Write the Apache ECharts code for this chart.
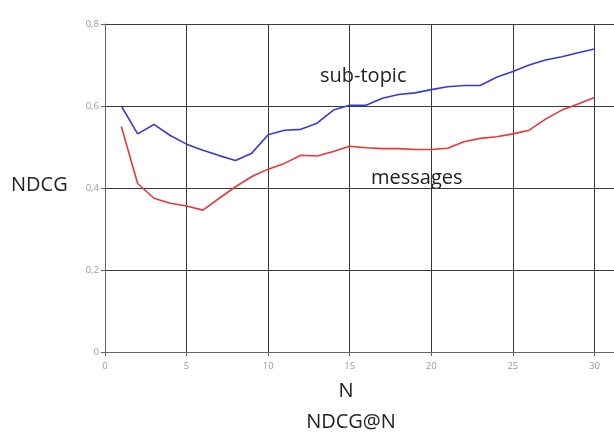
<!DOCTYPE html>
<html>
<head>
<meta charset="utf-8">
<script src="https://cdn.jsdelivr.net/npm/echarts@6/dist/echarts.min.js"></script>
<style>
html,body{margin:0;padding:0;background:#fff;}
#chart{width:614px;height:433px;}
</style>
</head>
<body>
<div id="chart"></div>
<script>
const nValues = [1,2,3,4,5,6,7,8,9,10,11,12,13,14,15,16,17,18,19,20,21,22,23,24,25,26,27,28,29,30];
const subTopic = [0.600,0.532,0.555,0.528,0.507,0.492,0.479,0.467,0.485,0.530,0.541,0.543,0.558,0.590,0.602,0.602,0.619,0.628,0.632,0.640,0.647,0.650,0.650,0.670,0.684,0.700,0.712,0.720,0.730,0.739];
const messages = [0.550,0.411,0.375,0.363,0.356,0.346,0.375,0.403,0.428,0.446,0.460,0.480,0.478,0.489,0.502,0.498,0.496,0.496,0.494,0.494,0.497,0.513,0.521,0.525,0.532,0.541,0.568,0.590,0.605,0.621];
const xTicks = [0,5,10,15,20,25,30];
const yTicks = ["0","0,2","0,4","0,6","0,8"];

const chart = echarts.init(document.getElementById('chart'));
const font = '"Open Sans", "Liberation Sans", sans-serif';
function label(text, x, y, size, align) {
  return {type: 'text', x: x, y: y, style: {text: text, font: size + 'px ' + font, fill: '#222', textAlign: align, textVerticalAlign: 'middle'}};
}
chart.setOption({
  animation: false,
  backgroundColor: '#ffffff',
  grid: {left: 105, top: 24, bottom: 81, right: 0, containLabel: false},
  xAxis: {
    type: 'value', min: 0, max: 31.2, interval: 5,
    axisLine: {show: true, lineStyle: {color: '#666', width: 1}},
    axisTick: {show: true, length: 4, lineStyle: {color: '#666'}},
    axisLabel: {
      color: '#999', fontSize: 9.5, fontFamily: font, margin: 9,
      showMaxLabel: false,
      formatter: function (v) { return xTicks.indexOf(v) >= 0 ? String(v) : ''; }
    },
    splitLine: {show: true, lineStyle: {color: '#3a3a3a', width: 1}}
  },
  yAxis: {
    type: 'value', min: 0, max: 0.8, interval: 0.2,
    axisLine: {show: true, lineStyle: {color: '#666', width: 1}},
    axisTick: {show: true, length: 4, lineStyle: {color: '#666'}},
    axisLabel: {
      color: '#999', fontSize: 9.5, fontFamily: font, margin: 6,
      formatter: function (v) { return yTicks[Math.round(v / 0.2)]; }
    },
    splitLine: {show: true, lineStyle: {color: '#3a3a3a', width: 1}}
  },
  series: [
    {
      name: 'sub-topic', type: 'line', showSymbol: false,
      data: nValues.map((n, i) => [n, subTopic[i]]),
      lineStyle: {color: '#3a3ad0', width: 1.6}, itemStyle: {color: '#3a3ad0'}
    },
    {
      name: 'messages', type: 'line', showSymbol: false,
      data: nValues.map((n, i) => [n, messages[i]]),
      lineStyle: {color: '#e03a3a', width: 1.6}, itemStyle: {color: '#e03a3a'}
    }
  ],
  graphic: [
    label('NDCG', 11, 185, 20, 'left'),
    label('sub-topic', 320, 76, 20, 'left'),
    label('messages', 371, 178, 20, 'left'),
    label('N', 346, 391, 20, 'center'),
    label('NDCG@N', 351, 422, 20, 'center')
  ]
});
</script>
</body>
</html>
